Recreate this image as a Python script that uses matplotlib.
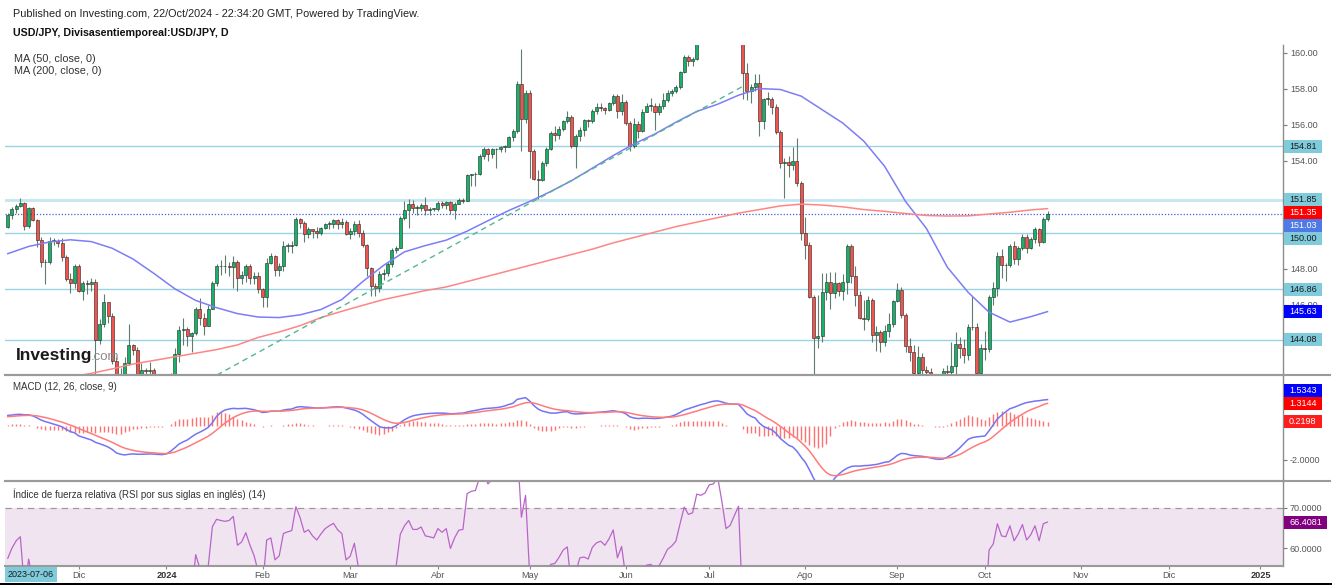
import numpy as np
import pandas as pd
import matplotlib
matplotlib.use("Agg")
import matplotlib.pyplot as plt
from matplotlib.patches import Rectangle
from matplotlib.lines import Line2D

plt.rcParams['font.family'] = ['Liberation Sans', 'DejaVu Sans']

W, H = 1332, 585

# USD/JPY daily bars from 2023-11-08 to 2024-10-22 (open of a bar = previous close)
first_open = 150.35
closes = [
    150.99, 151.33, 151.52, 151.69, 150.38, 151.36, 150.72, 149.63, 148.37, 148.40,
    149.55, 149.55, 149.45, 148.68, 147.45, 147.23, 148.18, 146.78, 147.22, 147.17,
    147.30, 144.08, 144.92, 146.15, 145.40, 142.90, 141.90, 142.15, 142.80, 143.80,
    143.52, 142.15, 142.40, 142.35, 142.40, 141.80, 141.40, 141.00, 141.05, 142.00,
    143.30, 144.60, 144.65, 144.25, 144.45, 145.75, 145.30, 144.85, 145.75, 147.20,
    148.15, 148.15, 148.15, 148.10, 148.40, 147.50, 147.65, 148.15, 147.50, 147.60,
    146.90, 146.45, 148.35, 148.70, 147.95, 148.15, 149.30, 149.30, 149.35, 150.75,
    150.55, 149.95, 150.20, 150.10, 150.00, 150.30, 150.50, 150.50, 150.70, 150.50,
    150.60, 149.95, 150.10, 150.50, 150.00, 149.35, 148.05, 147.05, 146.95, 147.70,
    147.75, 148.30, 149.05, 149.15, 150.85, 151.25, 151.60, 151.40, 151.40, 151.55,
    151.30, 151.35, 151.35, 151.65, 151.55, 151.70, 151.30, 151.60, 151.85, 151.80,
    153.20, 153.25, 153.25, 154.25, 154.65, 154.40, 154.65, 154.65, 154.80, 154.80,
    155.35, 155.65, 158.30, 156.35, 157.80, 154.55, 153.00, 152.95, 153.90, 154.65,
    155.55, 155.45, 155.75, 156.20, 156.45, 154.85, 155.40, 155.70, 156.25, 156.20,
    156.80, 157.00, 156.95, 156.85, 157.20, 157.60, 156.75, 157.30, 156.10, 154.85,
    156.05, 155.65, 156.70, 157.05, 157.05, 156.70, 157.05, 157.40, 157.75, 157.90,
    158.10, 158.95, 159.80, 159.55, 159.65, 160.75, 160.75, 160.90, 161.50, 161.45,
    161.70, 161.25, 160.75, 160.80, 161.30, 161.65, 158.90, 157.90, 158.10, 158.35,
    156.20, 157.45, 157.45, 157.00, 155.60, 153.90, 153.95, 153.75, 154.00, 152.75,
    149.98, 149.35, 146.45, 144.15, 144.25, 146.70, 147.25, 146.65, 147.20, 146.80,
    147.30, 149.25, 147.60, 146.55, 145.25, 145.20, 146.25, 144.35, 144.50, 143.95,
    144.55, 144.95, 146.20, 146.85, 145.45, 143.70, 143.40, 142.20, 143.10, 142.40,
    142.25, 141.80, 140.85, 140.60, 142.35, 142.30, 142.60, 143.85, 143.60, 143.20,
    144.75, 144.80, 142.20, 143.60, 143.55, 146.45, 146.95, 148.70, 148.20, 148.20,
    149.25, 148.55, 149.15, 149.80, 149.15, 149.65, 150.20, 149.50, 150.80, 151.03,
]
highs = [
    151.09, 151.45, 151.59, 151.92, 151.72, 151.45, 151.43, 150.78, 149.77, 148.55,
    149.75, 149.70, 149.68, 149.70, 148.75, 147.80, 148.30, 148.25, 147.35, 147.40,
    147.50, 147.45, 145.20, 146.60, 146.15, 145.55, 143.10, 142.50, 143.10, 144.95,
    143.85, 143.65, 142.80, 142.50, 142.85, 142.50, 141.90, 141.70, 141.20, 142.20,
    143.60, 144.85, 145.30, 144.75, 144.50, 145.90, 146.40, 145.55, 146.00, 147.35,
    148.30, 148.50, 148.80, 148.40, 148.70, 148.50, 147.90, 148.30, 148.30, 147.85,
    147.85, 146.95, 148.60, 148.90, 148.75, 148.35, 149.55, 149.45, 149.55, 150.90,
    150.85, 150.65, 150.35, 150.20, 150.35, 150.35, 150.55, 150.65, 150.80, 150.75,
    150.85, 150.70, 150.30, 150.65, 150.70, 150.15, 149.40, 148.10, 147.20, 147.90,
    148.00, 148.40, 149.15, 149.30, 150.95, 151.80, 151.86, 151.85, 151.55, 151.65,
    151.97, 151.45, 151.40, 151.75, 151.75, 151.80, 151.75, 151.70, 151.95, 151.95,
    153.25, 153.30, 153.40, 154.40, 154.75, 154.70, 154.70, 154.70, 154.85, 154.90,
    155.40, 155.75, 158.45, 160.20, 157.95, 157.95, 154.65, 153.50, 154.00, 154.75,
    155.65, 155.95, 155.95, 156.25, 156.75, 156.55, 155.50, 155.90, 156.35, 156.35,
    156.90, 157.20, 157.20, 157.00, 157.30, 157.70, 157.70, 157.70, 157.40, 156.20,
    156.40, 156.20, 156.90, 157.20, 157.50, 157.20, 157.20, 157.75, 157.95, 158.00,
    158.20, 159.00, 159.90, 159.90, 159.80, 160.85, 160.90, 161.30, 161.70, 161.75,
    161.95, 161.80, 161.30, 161.15, 161.40, 161.75, 161.75, 159.45, 158.25, 158.85,
    158.85, 157.50, 157.85, 157.55, 157.15, 155.70, 154.15, 154.30, 154.75, 155.25,
    152.90, 150.90, 149.50, 146.55, 146.55, 147.75, 147.80, 147.85, 147.85, 147.30,
    147.70, 149.40, 149.40, 148.15, 146.80, 146.25, 146.50, 146.40, 144.85, 144.60,
    144.90, 145.55, 146.25, 147.20, 147.00, 145.55, 144.15, 143.75, 143.70, 143.35,
    142.60, 142.50, 141.90, 141.05, 142.50, 142.65, 143.95, 144.50, 144.20, 144.10,
    144.95, 146.50, 145.00, 143.85, 144.55, 146.55, 147.25, 148.95, 149.10, 148.35,
    149.40, 149.55, 149.30, 149.95, 149.95, 149.80, 150.35, 150.30, 150.90, 151.20,
]
lows = [
    150.26, 150.80, 151.10, 151.43, 150.16, 150.25, 150.65, 149.20, 148.10, 147.15,
    148.30, 149.35, 149.20, 148.45, 147.35, 146.67, 146.95, 146.70, 146.25, 146.60,
    146.75, 141.65, 143.85, 144.75, 145.00, 142.70, 140.97, 141.50, 142.05, 142.65,
    143.20, 141.90, 141.90, 142.10, 142.10, 141.45, 140.25, 140.90, 140.90, 140.80,
    141.90, 142.85, 143.80, 143.70, 143.40, 144.35, 144.90, 144.35, 144.85, 145.85,
    147.05, 147.65, 147.80, 147.60, 146.95, 146.80, 147.15, 147.30, 147.15, 147.15,
    146.65, 145.90, 145.90, 148.30, 147.60, 147.60, 147.90, 148.95, 148.90, 149.25,
    150.25, 149.50, 149.70, 149.70, 149.70, 149.90, 150.20, 150.20, 150.30, 150.20,
    150.30, 149.90, 149.65, 149.90, 149.80, 149.20, 147.60, 146.50, 146.50, 146.70,
    147.40, 147.60, 148.10, 148.90, 149.20, 150.70, 150.25, 151.10, 151.00, 151.20,
    151.00, 151.00, 151.20, 151.20, 151.40, 151.35, 151.05, 150.80, 151.60, 151.65,
    151.75, 152.60, 152.60, 153.20, 154.10, 154.00, 154.15, 153.60, 154.50, 154.50,
    154.75, 155.10, 155.55, 154.55, 156.10, 153.05, 152.95, 151.86, 152.90, 153.70,
    154.60, 155.10, 155.20, 155.65, 156.10, 154.70, 153.60, 155.10, 155.40, 155.90,
    156.10, 156.60, 156.80, 156.60, 156.80, 157.10, 156.40, 156.55, 156.00, 154.55,
    154.70, 155.30, 155.60, 156.75, 156.80, 155.72, 156.55, 156.90, 157.30, 157.60,
    157.80, 158.00, 158.90, 159.30, 159.30, 159.60, 160.50, 160.60, 160.80, 161.20,
    161.20, 161.10, 160.55, 160.55, 160.70, 161.15, 157.45, 157.40, 157.20, 157.90,
    155.40, 155.75, 157.10, 156.60, 155.50, 153.60, 151.95, 153.10, 153.50, 152.60,
    149.60, 148.55, 146.40, 141.70, 143.60, 143.95, 146.30, 145.80, 146.40, 146.50,
    146.25, 146.60, 147.20, 145.95, 145.20, 144.60, 145.10, 143.95, 143.45, 143.40,
    143.70, 144.20, 144.80, 146.15, 145.25, 143.40, 142.90, 141.75, 142.00, 141.80,
    140.70, 141.25, 140.30, 139.60, 140.45, 140.50, 141.70, 142.10, 143.05, 142.75,
    142.95, 144.60, 141.85, 141.65, 142.95, 143.40, 146.00, 146.50, 147.50, 147.35,
    148.10, 148.30, 148.20, 149.05, 148.90, 149.10, 149.45, 149.25, 149.45, 150.65,
]

# moving averages read every 5 bars
ma_idx = list(range(0, 250, 5)) + [249]
ma50 = [
    148.85, 149.25, 149.50, 149.62, 149.52, 149.15, 148.55, 147.75, 146.90, 146.25,
    145.85, 145.52, 145.33, 145.30, 145.45, 145.75, 146.30, 147.30, 148.20, 148.95,
    149.30, 149.60, 150.10, 150.68, 151.25, 151.75, 152.30, 152.90, 153.60, 154.30,
    154.95, 155.50, 156.15, 156.75, 157.15, 157.65, 158.02, 157.97, 157.60, 156.85,
    156.10, 155.10, 153.70, 151.75, 150.25, 148.10, 146.70, 145.60, 145.05, 145.35, 145.63,
]
ma200 = [
    141.55, 141.70, 141.85, 142.00, 142.20, 142.45, 142.72, 142.92, 143.12, 143.32,
    143.52, 143.78, 144.20, 144.50, 144.85, 145.30, 145.65, 145.98, 146.30, 146.55,
    146.80, 147.00, 147.30, 147.60, 147.90, 148.20, 148.50, 148.80, 149.10, 149.45,
    149.75, 150.05, 150.35, 150.60, 150.85, 151.10, 151.30, 151.50, 151.60, 151.55,
    151.45, 151.30, 151.20, 151.08, 150.97, 150.94, 150.95, 151.05, 151.15, 151.28, 151.35,
]

levels = [154.81, 151.85, 150.00, 146.86, 144.08]
last_price = 151.03
trend_x = [50.1, 176.0]
trend_y = [142.11, 158.14]

macd = [
    0.60, 0.63, 0.66, 0.67, 0.64, 0.64, 0.58, 0.46, 0.33, 0.24,
    0.17, 0.09, 0.02, -0.07, -0.22, -0.35, -0.42, -0.60, -0.68, -0.76,
    -0.84, -0.98, -1.06, -1.15, -1.25, -1.40, -1.60, -1.68, -1.72, -1.68,
    -1.66, -1.68, -1.68, -1.67, -1.66, -1.67, -1.69, -1.70, -1.66, -1.50,
    -1.30, -1.08, -0.95, -0.84, -0.66, -0.50, -0.38, -0.25, -0.10, 0.18,
    0.55, 0.78, 0.92, 0.98, 1.02, 1.00, 1.01, 1.02, 0.98, 0.94,
    0.86, 0.78, 0.80, 0.86, 0.86, 0.85, 0.92, 0.96, 0.98, 1.08,
    1.12, 1.10, 1.08, 1.06, 1.04, 1.04, 1.06, 1.08, 1.10, 1.11,
    1.10, 1.04, 0.98, 0.92, 0.82, 0.68, 0.48, 0.30, 0.12, -0.05,
    -0.12, -0.13, -0.12, 0.00, 0.18, 0.35, 0.48, 0.58, 0.63, 0.67,
    0.70, 0.72, 0.73, 0.74, 0.74, 0.73, 0.70, 0.71, 0.73, 0.74,
    0.80, 0.86, 0.90, 0.95, 1.00, 1.02, 1.04, 1.06, 1.10, 1.16,
    1.25, 1.32, 1.55, 1.60, 1.65, 1.45, 1.18, 0.98, 0.86, 0.80,
    0.74, 0.74, 0.77, 0.81, 0.82, 0.72, 0.69, 0.70, 0.72, 0.74,
    0.76, 0.78, 0.80, 0.82, 0.85, 0.88, 0.84, 0.80, 0.70, 0.52,
    0.45, 0.42, 0.44, 0.44, 0.43, 0.42, 0.44, 0.47, 0.51, 0.56,
    0.65, 0.78, 0.92, 1.00, 1.08, 1.16, 1.24, 1.30, 1.38, 1.44,
    1.46, 1.40, 1.32, 1.28, 1.27, 1.25, 1.00, 0.70, 0.55, 0.45,
    0.15, -0.05, -0.15, -0.25, -0.45, -0.75, -0.95, -1.15, -1.25, -1.50,
    -1.85, -2.15, -2.60, -3.10, -3.50, -3.75, -3.80, -3.50, -3.10, -2.85,
    -2.65, -2.50, -2.40, -2.37, -2.38, -2.35, -2.34, -2.31, -2.28, -2.22,
    -2.15, -2.12, -1.95, -1.75, -1.63, -1.65, -1.72, -1.76, -1.78, -1.80,
    -1.84, -1.90, -1.95, -1.98, -1.96, -1.85, -1.70, -1.52, -1.30, -1.05,
    -0.80, -0.70, -0.66, -0.63, -0.61, -0.30, 0.05, 0.40, 0.62, 0.82,
    1.00, 1.08, 1.18, 1.28, 1.36, 1.40, 1.45, 1.47, 1.51, 1.53428,
]
signal = [
    0.53, 0.55, 0.57, 0.59, 0.60, 0.61, 0.60, 0.58, 0.53, 0.48,
    0.42, 0.35, 0.28, 0.21, 0.12, 0.03, -0.06, -0.17, -0.27, -0.37,
    -0.46, -0.57, -0.67, -0.77, -0.87, -0.98, -1.10, -1.22, -1.32, -1.39,
    -1.45, -1.50, -1.53, -1.56, -1.58, -1.60, -1.62, -1.64, -1.64, -1.61,
    -1.55, -1.45, -1.36, -1.25, -1.13, -1.00, -0.88, -0.75, -0.62, -0.45,
    -0.25, -0.05, 0.15, 0.32, 0.48, 0.60, 0.70, 0.78, 0.83, 0.86,
    0.86, 0.85, 0.84, 0.84, 0.85, 0.85, 0.86, 0.88, 0.90, 0.93,
    0.97, 1.00, 1.02, 1.03, 1.04, 1.04, 1.05, 1.06, 1.07, 1.08,
    1.08, 1.07, 1.05, 1.03, 0.99, 0.93, 0.84, 0.73, 0.61, 0.48,
    0.36, 0.26, 0.18, 0.14, 0.15, 0.19, 0.25, 0.32, 0.38, 0.44,
    0.49, 0.54, 0.58, 0.61, 0.64, 0.66, 0.67, 0.68, 0.69, 0.70,
    0.72, 0.75, 0.78, 0.81, 0.85, 0.88, 0.91, 0.94, 0.97, 1.01,
    1.06, 1.11, 1.20, 1.28, 1.35, 1.37, 1.33, 1.26, 1.18, 1.10,
    1.03, 0.97, 0.93, 0.90, 0.89, 0.85, 0.82, 0.80, 0.78, 0.77,
    0.77, 0.77, 0.78, 0.78, 0.80, 0.81, 0.82, 0.82, 0.79, 0.74,
    0.68, 0.63, 0.59, 0.56, 0.53, 0.51, 0.50, 0.49, 0.50, 0.51,
    0.54, 0.59, 0.65, 0.72, 0.79, 0.86, 0.94, 1.01, 1.08, 1.15,
    1.21, 1.25, 1.27, 1.27, 1.27, 1.27, 1.22, 1.11, 1.00, 0.89,
    0.74, 0.58, 0.43, 0.30, 0.14, -0.04, -0.22, -0.41, -0.58, -0.76,
    -0.98, -1.21, -1.49, -1.82, -2.17, -2.49, -2.75, -2.90, -2.94, -2.92,
    -2.87, -2.80, -2.72, -2.65, -2.60, -2.55, -2.51, -2.47, -2.43, -2.39,
    -2.34, -2.29, -2.22, -2.13, -2.03, -1.96, -1.91, -1.88, -1.86, -1.85,
    -1.85, -1.86, -1.88, -1.90, -1.91, -1.90, -1.86, -1.79, -1.69, -1.56,
    -1.41, -1.27, -1.15, -1.04, -0.95, -0.82, -0.64, -0.43, -0.22, -0.01,
    0.19, 0.37, 0.53, 0.68, 0.82, 0.94, 1.04, 1.13, 1.24, 1.31444,
]
rsi = [
    57.5, 60.0, 61.8, 62.8, 50.0, 57.3, 52.0, 46.0, 41.0, 41.0,
    47.0, 47.0, 46.0, 42.0, 37.0, 36.0, 42.0, 36.0, 39.0, 38.0,
    39.0, 30.0, 34.0, 40.0, 38.0, 31.0, 29.0, 30.0, 33.0, 37.0,
    36.0, 32.0, 33.0, 33.0, 33.0, 31.0, 30.0, 29.0, 30.0, 35.0,
    42.0, 48.0, 49.0, 47.0, 48.0, 58.4, 55.0, 52.0, 55.5, 65.3,
    67.1, 66.8, 66.6, 66.8, 67.8, 60.7, 61.5, 63.8, 60.7, 58.1,
    54.0, 50.0, 62.0, 62.5, 57.1, 58.1, 63.6, 64.0, 64.3, 70.2,
    67.5, 63.9, 64.5, 63.0, 62.0, 63.5, 64.8, 65.5, 66.1, 64.5,
    63.6, 57.1, 58.0, 61.2, 55.0, 52.0, 46.0, 42.0, 42.0, 47.0,
    47.0, 50.0, 54.0, 55.5, 63.4, 65.5, 66.8, 64.6, 64.6, 65.2,
    63.0, 62.8, 62.5, 64.8, 63.9, 64.8, 59.9, 62.5, 64.4, 64.6,
    73.4, 74.0, 74.2, 77.5, 78.5, 75.8, 77.0, 77.0, 78.0, 78.0,
    80.0, 81.0, 85.0, 67.6, 73.0, 53.0, 45.0, 45.0, 49.0, 53.0,
    56.0, 56.2, 57.7, 59.5, 60.3, 50.0, 54.0, 57.6, 57.8, 57.3,
    60.2, 61.3, 61.7, 60.7, 62.3, 64.5, 57.6, 60.4, 53.0, 45.0,
    52.0, 50.0, 54.0, 55.8, 56.0, 55.0, 55.7, 57.6, 59.7, 60.5,
    61.7, 66.0, 70.1, 68.3, 68.7, 73.3, 73.0, 73.6, 75.6, 75.8,
    77.5, 71.6, 64.8, 65.6, 68.0, 70.3, 45.0, 40.0, 41.0, 42.0,
    35.0, 40.0, 40.0, 38.0, 33.0, 28.0, 28.0, 28.0, 30.0, 26.0,
    20.0, 19.0, 16.0, 13.0, 13.0, 25.0, 30.0, 31.0, 30.0, 31.0,
    33.0, 44.0, 40.0, 37.0, 34.0, 34.0, 38.0, 34.0, 35.0, 33.0,
    35.0, 37.0, 42.0, 44.0, 40.0, 36.0, 35.0, 33.0, 35.0, 34.0,
    33.0, 32.0, 30.0, 30.0, 37.0, 37.0, 38.0, 42.0, 41.0, 40.0,
    45.0, 45.0, 38.0, 43.0, 43.0, 59.5, 61.0, 66.0, 63.0, 62.8,
    65.5, 61.8, 63.5, 65.8, 62.0, 63.3, 65.5, 61.8, 66.0, 66.4081,
]

month_starts = ['2023-12-01', '2024-01-01', '2024-02-01', '2024-03-01', '2024-04-01',
                '2024-05-01', '2024-06-01', '2024-07-01', '2024-08-01', '2024-09-01',
                '2024-10-01', '2024-11-01', '2024-12-01', '2025-01-01']
month_labels = ['Dic', '2024', 'Feb', 'Mar', 'Abr', 'May', 'Jun', 'Jul', 'Ago', 'Sep',
                'Oct', 'Nov', 'Dic', '2025']

# ---- prep ----
axis_days = pd.bdate_range('2023-11-08', '2025-01-31')
month_pos = np.searchsorted(axis_days, pd.to_datetime(month_starts))

x = np.arange(len(closes))
c = np.array(closes)
hi = np.array(highs)
lo = np.array(lows)
o = np.r_[first_open, c[:-1]]
hi = np.maximum(hi, np.maximum(o, c))
lo = np.minimum(lo, np.minimum(o, c))
up = c >= o
macd = np.array(macd)
signal = np.array(signal)
hist = macd - signal

fig = plt.figure(figsize=(W / 100, H / 100), dpi=100)
fig.patch.set_facecolor('white')


def panel(top, bottom):
    a = fig.add_axes([5 / W, (H - bottom) / H, 1278 / W, (bottom - top) / H])
    a.set_facecolor('none')
    a.spines['top'].set_visible(False)
    a.spines['left'].set_visible(False)
    a.spines['right'].set_color('#8c8c8c')
    a.spines['right'].set_linewidth(1)
    a.spines['bottom'].set_color('#9a9a9a')
    a.spines['bottom'].set_linewidth(1.5)
    a.yaxis.tick_right()
    a.tick_params(axis='y', direction='out', length=3, width=0.8, color='#777',
                  labelsize=6.5, labelcolor='#555', pad=2)
    a.set_xlim(-0.67, 305.4)
    a.set_xticks([])
    return a


ax = panel(45, 375)
ax_m = panel(375, 481)
ax_r = panel(481, 566)

# ---- price panel ----
for lv in levels:
    if lv == 151.85:
        ax.axhline(lv, color='#c4e6ef', lw=2.0, zorder=1)
    else:
        ax.axhline(lv, color='#9ad3e3', lw=1.0, zorder=1)
ax.axhline(last_price, color='#3d5fe0', lw=0.9, ls=(0, (1, 1.5)), zorder=1)

ax.vlines(x, lo, hi, color='#5f7d6c', lw=0.8, zorder=2)
bot = np.minimum(o, c)
bh = np.maximum(np.abs(c - o), 0.04)
ax.bar(x[up], bh[up], bottom=bot[up], width=0.72, color='#17b169',
       edgecolor='#1f2a24', lw=0.4, zorder=3)
ax.bar(x[~up], bh[~up], bottom=bot[~up], width=0.72, color='#f0544c',
       edgecolor='#2a1f1f', lw=0.4, zorder=3)

ax.plot(ma_idx, ma50, color='#7d7df5', lw=1.1, zorder=4)
ax.plot(ma_idx, ma200, color='#ff8585', lw=1.1, zorder=4)
ax.plot(trend_x, trend_y, color='#58b593', lw=1.0, ls=(0, (4, 3)), zorder=4)

ax.set_ylim(142.11, 160.44)
price_ticks = np.arange(144, 161, 2)
ax.set_yticks(price_ticks)
# 150.00 sits fully under the level tags, as on the original scale
ax.set_yticklabels(['' if v == 150 else f'{v:.2f}' for v in price_ticks])

# ---- MACD panel ----
ax_m.vlines(x, 0, hist, color='#ff7070', lw=1.0, zorder=2)
ax_m.plot(x, macd, color='#7474f4', lw=1.1, zorder=3)
ax_m.plot(x, signal, color='#ff7b7b', lw=1.1, zorder=3)
ax_m.set_ylim(-3.253, 2.982)
ax_m.set_yticks([-2])
ax_m.set_yticklabels(['-2.0000'])

# ---- RSI panel ----
ax_r.axhspan(30, 70, color='#f1e4f1', lw=0, zorder=0)
ax_r.axhline(70, color='#9a9a9a', lw=0.9, ls=(0, (5, 4)), zorder=1)
ax_r.plot(x, rsi, color='#b865c9', lw=0.9, zorder=3)
ax_r.set_ylim(55.59, 76.53)
ax_r.set_yticks([60, 70])
ax_r.set_yticklabels(['60.0000', '70.0000'])
ax_r.set_xticks(month_pos)
ax_r.set_xticklabels(month_labels)
ax_r.tick_params(axis='x', direction='out', length=2.5, width=0.8, color='#888',
                 labelsize=6.6, labelcolor='#555', pad=1)
for t in ax_r.get_xticklabels():
    if t.get_text() in ('2024', '2025'):
        t.set_fontweight('bold')
        t.set_color('#333')

# separators running under the price scale
for yy in (375, 481):
    fig.add_artist(Line2D([5 / W, 1330 / W], [(H - yy) / H] * 2, color='#9a9a9a', lw=1.5))


# ---- price tags on the right scale ----
def tags(axis, items, push_down=True):
    pts = []
    for v, s, fc, tc in items:
        pts.append([axis.transData.transform((0, v))[1], s, fc, tc])
    pts.sort(key=lambda p: -p[0] if push_down else p[0])
    prev = None
    for p in pts:
        if prev is not None:
            if push_down and p[0] > prev - 13:
                p[0] = prev - 13
            if not push_down and p[0] < prev + 13:
                p[0] = prev + 13
        prev = p[0]
        w = 8 + 5 * len(p[1])
        fig.add_artist(Rectangle((1284 / W, (p[0] - 6.5) / H), w / W, 13 / H,
                                 transform=fig.transFigure, fc=p[2], ec='none', zorder=5))
        fig.text(1289 / W, p[0] / H, p[1], ha='left', va='center', fontsize=6.5,
                 color=p[3], zorder=6)


cy = '#7fcbdb'
tags(ax, [
    (154.81, '154.81', cy, '#1a1a1a'),
    (151.85, '151.85', cy, '#1a1a1a'),
    (ma200[-1], f'{ma200[-1]:.2f}', '#ff0000', 'white'),
    (last_price, f'{last_price:.2f}', '#4f79e6', 'white'),
    (150.00, '150.00', cy, '#1a1a1a'),
    (146.86, '146.86', cy, '#1a1a1a'),
    (ma50[-1], f'{ma50[-1]:.2f}', '#0000ff', 'white'),
    (144.08, '144.08', cy, '#1a1a1a'),
])
tags(ax_m, [
    (macd[-1], f'{macd[-1]:.4f}', '#0000ff', 'white'),
    (signal[-1], f'{signal[-1]:.4f}', '#ff0000', 'white'),
    (hist[-1], f'{hist[-1]:.4f}', '#ff1c1c', 'white'),
], push_down=False)
tags(ax_r, [(rsi[-1], f'{rsi[-1]:.4f}', '#800080', 'white')])

# ---- texts ----
fig.text(13 / W, (H - 14) / H, 'Published on Investing.com, 22/Oct/2024 - 22:34:20 GMT, Powered by TradingView.',
         fontsize=7.8, color='#222', va='center')
fig.text(13 / W, (H - 33) / H, 'USD/JPY, Divisasentiemporeal:USD/JPY, D',
         fontsize=7.7, color='#111', weight='bold', va='center')
fig.text(14 / W, (H - 59.5) / H, 'MA (50, close, 0)', fontsize=7.8, color='#333', va='center')
fig.text(14 / W, (H - 70.5) / H, 'MA (200, close, 0)', fontsize=7.8, color='#333', va='center')
fig.text(13 / W, (H - 387) / H, 'MACD (12, 26, close, 9)', fontsize=7, color='#333', va='center')
fig.text(13 / W, (H - 494) / H, 'Índice de fuerza relativa (RSI por sus siglas en inglés) (14)',
         fontsize=7, color='#333', va='center')

fig.text(16 / W, (H - 360) / H, 'Investing', fontsize=12.5, weight='bold', color='#1a1a1a', va='baseline')
fig.text(91 / W, (H - 360) / H, '.com', fontsize=9.5, color='#8a8a8a', va='baseline')

# date box bottom-left and bottom bar
fig.add_artist(Rectangle((5 / W, 3 / H), 52 / W, 15 / H, transform=fig.transFigure,
                         fc='#7fcbdb', ec='none', zorder=5))
fig.text(31 / W, 10.5 / H, '2023-07-06', ha='center', va='center', fontsize=6.5,
         color='#1a1a1a', zorder=6)
fig.add_artist(Rectangle((0, 0), 1, 2.5 / H, transform=fig.transFigure,
                         fc='black', ec='none', zorder=5))

fig.savefig('out.png', dpi=100)
